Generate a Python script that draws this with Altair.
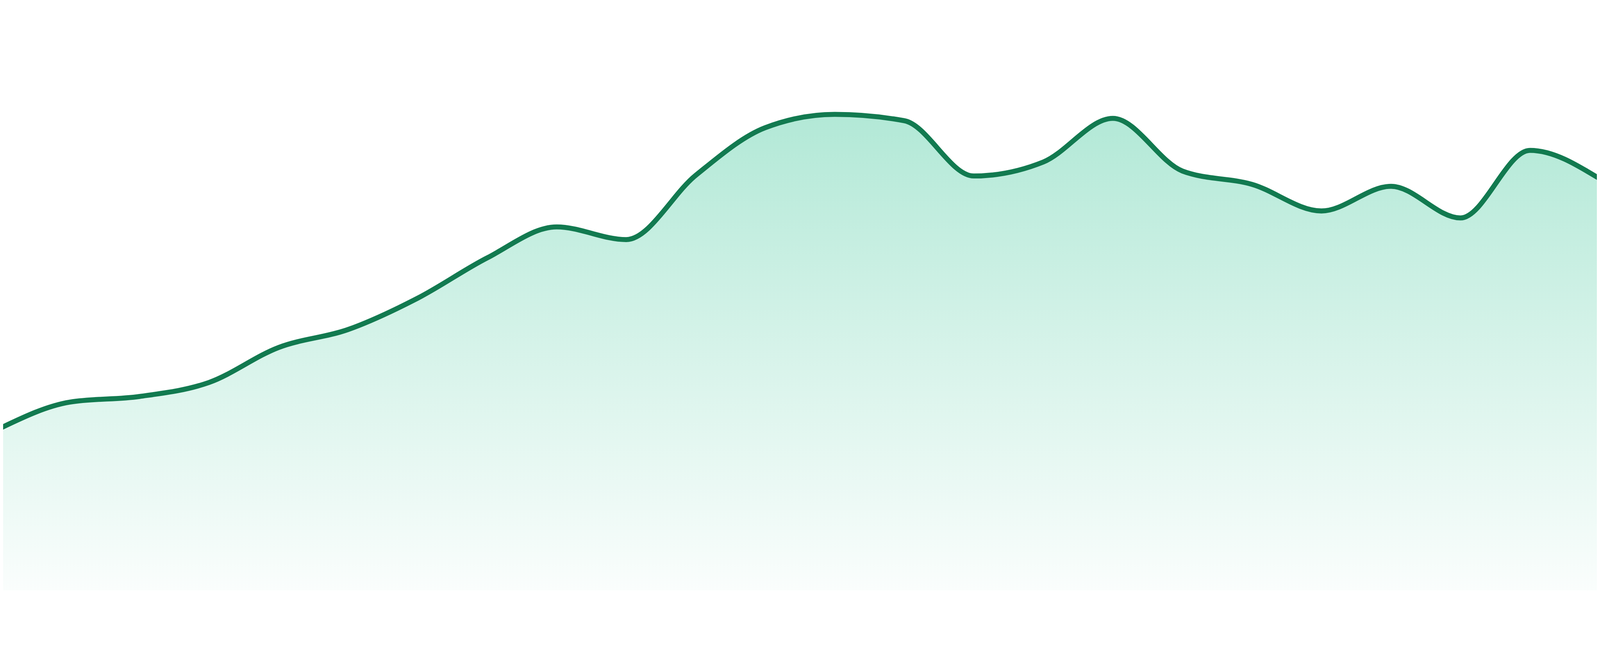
import altair as alt
import pandas as pd

index = list(range(24))
values = [488, 566, 583, 625, 730, 784, 878, 999, 1092, 1054, 1247, 1390,
          1430, 1411, 1245, 1287, 1418, 1260, 1220, 1140, 1214, 1119, 1322, 1237]

df = pd.DataFrame({"i": index, "v": values})

LINE = "#127a50"
step = 4800 / 23.0
x_scale = alt.Scale(domain=[8 / step, 4792 / step], nice=False, zero=False)
y_scale = alt.Scale(domain=[0, 1624], nice=False)

grad = alt.Gradient(
    gradient="linear",
    stops=[
        alt.GradientStop(color="rgba(16,185,129,0.32)", offset=0),
        alt.GradientStop(color="rgba(16,185,129,0.17)", offset=0.5),
        alt.GradientStop(color="rgba(16,185,129,0.02)", offset=1),
    ],
    x1=0, x2=0, y1=0, y2=1,
)

base = alt.Chart(df).encode(
    x=alt.X("i:Q", scale=x_scale, axis=None),
    y=alt.Y("v:Q", scale=y_scale, axis=None),
)

area = base.mark_area(interpolate="monotone", color=grad, clip=True)
line = base.mark_line(interpolate="monotone", color=LINE, strokeWidth=15, clip=True)

chart = (
    alt.layer(area, line)
    .properties(width=4784, height=1624, padding=0, background="white")
    .configure_view(stroke=None)
)

chart.save("out.html", embed_options={"renderer": "svg", "actions": False})
